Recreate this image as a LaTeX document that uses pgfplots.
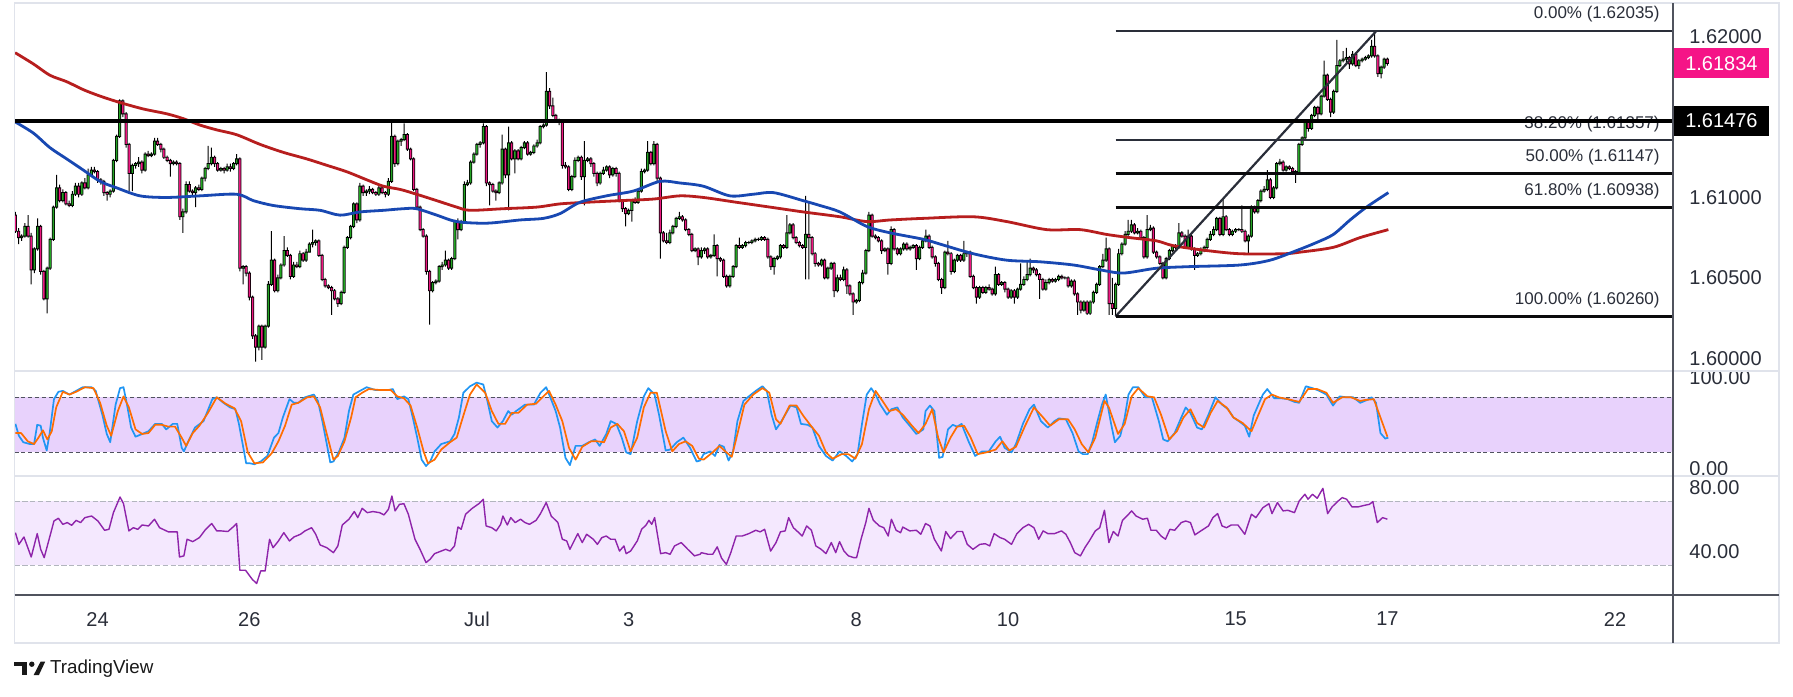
\documentclass[border=0pt]{standalone}
\usepackage{fontspec}
\setmainfont{Liberation Sans}
\usepackage{pgfplots}
\usepackage{pgfplotstable}
\pgfplotsset{compat=1.18}
\definecolor{cgreen}{RGB}{36,164,36}
\definecolor{cpink}{RGB}{236,24,128}
\definecolor{mared}{RGB}{183,30,30}
\definecolor{mablue}{RGB}{24,72,178}
\definecolor{stk}{RGB}{33,150,243}
\definecolor{std}{RGB}{255,109,0}
\definecolor{rsic}{RGB}{142,36,170}
\definecolor{stband}{RGB}{232,210,252}
\definecolor{rsiband}{RGB}{244,232,254}
\definecolor{frame}{RGB}{224,227,235}
\definecolor{axdark}{RGB}{80,83,94}
\definecolor{rsidash}{RGB}{178,181,190}
\definecolor{txt}{RGB}{42,46,57}
\definecolor{fiba}{RGB}{42,46,57}
\definecolor{fibb}{RGB}{10,10,12}
\definecolor{labpink}{RGB}{245,20,135}

\pgfplotstableread{
n o h l c
-26 1.6089 1.6091 1.6078 1.6079
-25 1.6079 1.6081 1.6071 1.6075
-24 1.6075 1.6077 1.6073 1.6076
-23 1.6076 1.6084 1.6075 1.6082
-22 1.6082 1.6089 1.6075 1.6076
-21 1.6076 1.6078 1.6046 1.6055
-20 1.6055 1.6069 1.6053 1.6068
-19 1.6068 1.6087 1.6067 1.6082
-18 1.6082 1.6083 1.6052 1.6054
-17 1.6054 1.6055 1.6036 1.6037
-16 1.6037 1.6057 1.6028 1.6056
-15 1.6056 1.6075 1.6055 1.6074
-14 1.6074 1.6095 1.6073 1.6094
-13 1.6094 1.6114 1.6093 1.6106
-12 1.6106 1.6108 1.6097 1.6098
-11 1.6098 1.6105 1.6097 1.6103
-10 1.6103 1.6104 1.6095 1.6096
-9 1.6096 1.6098 1.6094 1.6095
-8 1.6095 1.6104 1.6094 1.6102
-7 1.6102 1.6109 1.6101 1.6107
-6 1.6107 1.6109 1.6100 1.6102
-5 1.6102 1.6110 1.6101 1.6109
-4 1.6109 1.6112 1.6105 1.6106
-3 1.6106 1.6118 1.6105 1.6114
-2 1.6114 1.6119 1.6113 1.6117
-1 1.6117 1.6119 1.6115 1.6116
0 1.6116 1.6117 1.6109 1.6111
1 1.6111 1.6112 1.6108 1.6110
2 1.6110 1.6111 1.6101 1.6103
3 1.6103 1.6104 1.6098 1.6102
4 1.6102 1.6105 1.6100 1.6104
5 1.6104 1.6124 1.6103 1.6123
6 1.6123 1.6139 1.6122 1.6138
7 1.6138 1.6161 1.6137 1.6160
8 1.6160 1.6161 1.6150 1.6152
9 1.6152 1.6153 1.6131 1.6133
10 1.6133 1.6134 1.6104 1.6115
11 1.6115 1.6121 1.6104 1.6120
12 1.6120 1.6122 1.6118 1.6121
13 1.6121 1.6125 1.6119 1.6122
14 1.6122 1.6123 1.6115 1.6117
15 1.6117 1.6128 1.6116 1.6127
16 1.6127 1.6129 1.6125 1.6126
17 1.6126 1.6128 1.6125 1.6127
18 1.6127 1.6137 1.6126 1.6135
19 1.6135 1.6137 1.6132 1.6133
20 1.6133 1.6134 1.6128 1.6130
21 1.6130 1.6131 1.6124 1.6125
22 1.6125 1.6126 1.6122 1.6123
23 1.6123 1.6124 1.6113 1.6121
24 1.6121 1.6123 1.6120 1.6122
25 1.6122 1.6123 1.6120 1.6121
26 1.6121 1.6122 1.6086 1.6088
27 1.6088 1.6093 1.6078 1.6091
28 1.6091 1.6110 1.6090 1.6108
29 1.6108 1.6110 1.6103 1.6104
30 1.6104 1.6105 1.6101 1.6103
31 1.6103 1.6107 1.6094 1.6106
32 1.6106 1.6108 1.6104 1.6105
33 1.6105 1.6113 1.6104 1.6112
34 1.6112 1.6119 1.6110 1.6118
35 1.6118 1.6132 1.6117 1.6121
36 1.6121 1.6131 1.6120 1.6125
37 1.6125 1.6126 1.6119 1.6121
38 1.6121 1.6122 1.6116 1.6117
39 1.6117 1.6119 1.6116 1.6118
40 1.6118 1.6119 1.6115 1.6117
41 1.6117 1.6121 1.6116 1.6119
42 1.6119 1.6121 1.6116 1.6118
43 1.6118 1.6122 1.6117 1.6121
44 1.6121 1.6127 1.6120 1.6124
45 1.6124 1.6125 1.6054 1.6056
46 1.6056 1.6058 1.6046 1.6057
47 1.6057 1.6058 1.6051 1.6053
48 1.6053 1.6054 1.6036 1.6038
49 1.6038 1.6039 1.6012 1.6014
50 1.6014 1.6015 1.5998 1.6007
51 1.6007 1.6021 1.6005 1.6020
52 1.6020 1.6021 1.5999 1.6007
53 1.6007 1.6021 1.6006 1.6020
54 1.6020 1.6048 1.6019 1.6046
55 1.6046 1.6079 1.6045 1.6061
56 1.6061 1.6062 1.6041 1.6042
57 1.6042 1.6052 1.6041 1.6050
58 1.6050 1.6059 1.6049 1.6058
59 1.6058 1.6076 1.6057 1.6067
60 1.6067 1.6069 1.6063 1.6064
61 1.6064 1.6065 1.6049 1.6051
62 1.6051 1.6060 1.6050 1.6058
63 1.6058 1.6060 1.6056 1.6057
64 1.6057 1.6067 1.6056 1.6065
65 1.6065 1.6066 1.6060 1.6061
66 1.6061 1.6068 1.6060 1.6066
67 1.6066 1.6072 1.6066 1.6071
68 1.6071 1.6080 1.6069 1.6072
69 1.6072 1.6074 1.6070 1.6073
70 1.6073 1.6074 1.6063 1.6064
71 1.6064 1.6065 1.6048 1.6049
72 1.6049 1.6050 1.6044 1.6045
73 1.6045 1.6046 1.6043 1.6044
74 1.6044 1.6045 1.6027 1.6042
75 1.6042 1.6043 1.6036 1.6037
76 1.6037 1.6038 1.6032 1.6034
77 1.6034 1.6042 1.6033 1.6041
78 1.6041 1.6070 1.6040 1.6069
79 1.6069 1.6076 1.6068 1.6075
80 1.6075 1.6083 1.6074 1.6082
81 1.6082 1.6097 1.6081 1.6096
82 1.6096 1.6097 1.6084 1.6086
83 1.6086 1.6109 1.6085 1.6107
84 1.6107 1.6108 1.6101 1.6103
85 1.6103 1.6105 1.6101 1.6104
86 1.6104 1.6107 1.6102 1.6105
87 1.6105 1.6106 1.6102 1.6103
88 1.6103 1.6104 1.6101 1.6102
89 1.6102 1.6107 1.6101 1.6106
90 1.6106 1.6107 1.6102 1.6103
91 1.6103 1.6104 1.6100 1.6102
92 1.6102 1.6112 1.6101 1.6110
93 1.6110 1.6147 1.6109 1.6138
94 1.6138 1.6139 1.6119 1.6121
95 1.6121 1.6136 1.6120 1.6135
96 1.6135 1.6137 1.6132 1.6136
97 1.6136 1.6146 1.6135 1.6139
98 1.6139 1.6140 1.6129 1.6130
99 1.6130 1.6131 1.6123 1.6124
100 1.6124 1.6125 1.6104 1.6105
101 1.6105 1.6106 1.6093 1.6094
102 1.6094 1.6095 1.6079 1.6080
103 1.6080 1.6081 1.6075 1.6076
104 1.6076 1.6077 1.6052 1.6054
105 1.6054 1.6055 1.6021 1.6042
106 1.6042 1.6048 1.6041 1.6047
107 1.6047 1.6049 1.6046 1.6048
108 1.6048 1.6058 1.6047 1.6057
109 1.6057 1.6060 1.6055 1.6058
110 1.6058 1.6067 1.6057 1.6061
111 1.6061 1.6062 1.6055 1.6056
112 1.6056 1.6063 1.6055 1.6062
113 1.6062 1.6086 1.6061 1.6085
114 1.6085 1.6087 1.6074 1.6080
115 1.6080 1.6086 1.6079 1.6085
116 1.6085 1.6110 1.6084 1.6108
117 1.6108 1.6111 1.6107 1.6109
118 1.6109 1.6123 1.6108 1.6122
119 1.6122 1.6128 1.6121 1.6127
120 1.6127 1.6134 1.6126 1.6133
121 1.6133 1.6135 1.6131 1.6134
122 1.6134 1.6146 1.6133 1.6144
123 1.6144 1.6145 1.6107 1.6109
124 1.6109 1.6110 1.6095 1.6108
125 1.6108 1.6109 1.6103 1.6104
126 1.6104 1.6105 1.6098 1.6103
127 1.6103 1.6110 1.6102 1.6109
128 1.6109 1.6139 1.6108 1.6130
129 1.6130 1.6131 1.6112 1.6114
130 1.6114 1.6144 1.6092 1.6134
131 1.6134 1.6135 1.6123 1.6124
132 1.6124 1.6130 1.6115 1.6129
133 1.6129 1.6130 1.6123 1.6124
134 1.6124 1.6132 1.6123 1.6131
135 1.6131 1.6135 1.6130 1.6134
136 1.6134 1.6135 1.6126 1.6127
137 1.6127 1.6129 1.6126 1.6128
138 1.6128 1.6133 1.6127 1.6132
139 1.6132 1.6136 1.6131 1.6134
140 1.6134 1.6145 1.6133 1.6144
141 1.6144 1.6146 1.6143 1.6145
142 1.6145 1.6178 1.6144 1.6166
143 1.6166 1.6168 1.6155 1.6157
144 1.6157 1.6162 1.6150 1.6151
145 1.6151 1.6152 1.6147 1.6148
146 1.6148 1.6149 1.6145 1.6147
147 1.6147 1.6148 1.6118 1.6120
148 1.6120 1.6122 1.6118 1.6119
149 1.6119 1.6120 1.6104 1.6105
150 1.6105 1.6114 1.6104 1.6113
151 1.6113 1.6125 1.6112 1.6123
152 1.6123 1.6126 1.6122 1.6125
153 1.6125 1.6126 1.6111 1.6113
154 1.6113 1.6135 1.6095 1.6123
155 1.6123 1.6125 1.6122 1.6124
156 1.6124 1.6125 1.6119 1.6121
157 1.6121 1.6122 1.6113 1.6115
158 1.6115 1.6116 1.6107 1.6109
159 1.6109 1.6116 1.6108 1.6115
160 1.6115 1.6119 1.6114 1.6117
161 1.6117 1.6120 1.6116 1.6119
162 1.6119 1.6120 1.6112 1.6114
163 1.6114 1.6119 1.6113 1.6118
164 1.6118 1.6119 1.6113 1.6115
165 1.6115 1.6116 1.6097 1.6098
166 1.6098 1.6099 1.6091 1.6093
167 1.6093 1.6094 1.6082 1.6090
168 1.6090 1.6093 1.6089 1.6092
169 1.6092 1.6099 1.6085 1.6098
170 1.6098 1.6100 1.6096 1.6097
171 1.6097 1.6105 1.6096 1.6104
172 1.6104 1.6118 1.6103 1.6116
173 1.6116 1.6118 1.6115 1.6117
174 1.6117 1.6135 1.6116 1.6128
175 1.6128 1.6129 1.6120 1.6121
176 1.6121 1.6135 1.6120 1.6133
177 1.6133 1.6134 1.6110 1.6112
178 1.6112 1.6113 1.6062 1.6078
179 1.6078 1.6079 1.6072 1.6073
180 1.6073 1.6078 1.6071 1.6072
181 1.6072 1.6080 1.6071 1.6078
182 1.6078 1.6083 1.6077 1.6082
183 1.6082 1.6088 1.6081 1.6087
184 1.6087 1.6091 1.6086 1.6088
185 1.6088 1.6089 1.6085 1.6086
186 1.6086 1.6087 1.6079 1.6080
187 1.6080 1.6081 1.6076 1.6077
188 1.6077 1.6078 1.6066 1.6067
189 1.6067 1.6069 1.6066 1.6068
190 1.6068 1.6069 1.6058 1.6063
191 1.6063 1.6069 1.6062 1.6067
192 1.6067 1.6069 1.6065 1.6068
193 1.6068 1.6069 1.6062 1.6063
194 1.6063 1.6065 1.6062 1.6064
195 1.6064 1.6077 1.6063 1.6070
196 1.6070 1.6071 1.6051 1.6062
197 1.6062 1.6063 1.6060 1.6061
198 1.6061 1.6062 1.6050 1.6051
199 1.6051 1.6052 1.6044 1.6045
200 1.6045 1.6052 1.6044 1.6051
201 1.6051 1.6058 1.6050 1.6057
202 1.6057 1.6071 1.6056 1.6070
203 1.6070 1.6075 1.6068 1.6069
204 1.6069 1.6071 1.6068 1.6070
205 1.6070 1.6073 1.6069 1.6072
206 1.6072 1.6073 1.6071 1.6072
207 1.6072 1.6074 1.6071 1.6073
208 1.6073 1.6075 1.6072 1.6074
209 1.6074 1.6075 1.6073 1.6074
210 1.6074 1.6076 1.6073 1.6075
211 1.6075 1.6076 1.6073 1.6074
212 1.6074 1.6075 1.6062 1.6063
213 1.6063 1.6064 1.6055 1.6057
214 1.6057 1.6063 1.6052 1.6062
215 1.6062 1.6064 1.6061 1.6063
216 1.6063 1.6071 1.6062 1.6070
217 1.6070 1.6071 1.6068 1.6069
218 1.6069 1.6089 1.6068 1.6078
219 1.6078 1.6084 1.6077 1.6083
220 1.6083 1.6084 1.6074 1.6075
221 1.6075 1.6076 1.6071 1.6072
222 1.6072 1.6073 1.6069 1.6070
223 1.6070 1.6071 1.6068 1.6069
224 1.6069 1.6101 1.6049 1.6077
225 1.6077 1.6097 1.6049 1.6075
226 1.6075 1.6076 1.6064 1.6065
227 1.6065 1.6066 1.6057 1.6059
228 1.6059 1.6060 1.6057 1.6058
229 1.6058 1.6062 1.6057 1.6061
230 1.6061 1.6062 1.6049 1.6050
231 1.6050 1.6057 1.6049 1.6056
232 1.6056 1.6060 1.6055 1.6059
233 1.6059 1.6060 1.6038 1.6042
234 1.6042 1.6052 1.6041 1.6050
235 1.6050 1.6052 1.6048 1.6049
236 1.6049 1.6057 1.6048 1.6055
237 1.6055 1.6056 1.6040 1.6045
238 1.6045 1.6046 1.6039 1.6040
239 1.6040 1.6041 1.6027 1.6035
240 1.6035 1.6037 1.6034 1.6036
241 1.6036 1.6048 1.6035 1.6047
242 1.6047 1.6055 1.6046 1.6053
243 1.6053 1.6068 1.6052 1.6067
244 1.6067 1.6091 1.6066 1.6089
245 1.6089 1.6090 1.6075 1.6076
246 1.6076 1.6077 1.6074 1.6075
247 1.6075 1.6076 1.6072 1.6073
248 1.6073 1.6074 1.6065 1.6067
249 1.6067 1.6069 1.6066 1.6068
250 1.6068 1.6069 1.6052 1.6059
251 1.6059 1.6082 1.6058 1.6080
252 1.6080 1.6081 1.6067 1.6068
253 1.6068 1.6069 1.6064 1.6065
254 1.6065 1.6069 1.6064 1.6068
255 1.6068 1.6072 1.6067 1.6071
256 1.6071 1.6072 1.6067 1.6068
257 1.6068 1.6070 1.6067 1.6069
258 1.6069 1.6071 1.6068 1.6070
259 1.6070 1.6071 1.6055 1.6062
260 1.6062 1.6070 1.6061 1.6069
261 1.6069 1.6074 1.6068 1.6073
262 1.6073 1.6080 1.6072 1.6076
263 1.6076 1.6077 1.6068 1.6069
264 1.6069 1.6070 1.6062 1.6063
265 1.6063 1.6064 1.6057 1.6059
266 1.6059 1.6060 1.6048 1.6049
267 1.6049 1.6050 1.6040 1.6044
268 1.6044 1.6067 1.6043 1.6066
269 1.6066 1.6073 1.6064 1.6065
270 1.6065 1.6066 1.6052 1.6054
271 1.6054 1.6062 1.6053 1.6061
272 1.6061 1.6065 1.6060 1.6064
273 1.6064 1.6065 1.6060 1.6061
274 1.6061 1.6073 1.6060 1.6065
275 1.6065 1.6067 1.6063 1.6066
276 1.6066 1.6067 1.6050 1.6051
277 1.6051 1.6052 1.6043 1.6044
278 1.6044 1.6045 1.6034 1.6038
279 1.6038 1.6045 1.6037 1.6044
280 1.6044 1.6045 1.6040 1.6041
281 1.6041 1.6045 1.6040 1.6044
282 1.6044 1.6046 1.6042 1.6043
283 1.6043 1.6044 1.6039 1.6040
284 1.6040 1.6057 1.6039 1.6052
285 1.6052 1.6053 1.6045 1.6046
286 1.6046 1.6048 1.6045 1.6047
287 1.6047 1.6048 1.6041 1.6043
288 1.6043 1.6044 1.6037 1.6038
289 1.6038 1.6043 1.6037 1.6042
290 1.6042 1.6043 1.6034 1.6038
291 1.6038 1.6044 1.6037 1.6043
292 1.6043 1.6059 1.6042 1.6046
293 1.6046 1.6051 1.6045 1.6049
294 1.6049 1.6061 1.6048 1.6052
295 1.6052 1.6062 1.6051 1.6056
296 1.6056 1.6057 1.6053 1.6055
297 1.6055 1.6056 1.6051 1.6052
298 1.6052 1.6053 1.6037 1.6049
299 1.6049 1.6050 1.6042 1.6043
300 1.6043 1.6049 1.6042 1.6047
301 1.6047 1.6050 1.6046 1.6049
302 1.6049 1.6050 1.6047 1.6048
303 1.6048 1.6050 1.6047 1.6049
304 1.6049 1.6052 1.6048 1.6051
305 1.6051 1.6052 1.6049 1.6050
306 1.6050 1.6051 1.6049 1.6050
307 1.6050 1.6051 1.6044 1.6045
308 1.6045 1.6049 1.6044 1.6048
309 1.6048 1.6049 1.6039 1.6040
310 1.6040 1.6041 1.6027 1.6035
311 1.6035 1.6036 1.6028 1.6030
312 1.6030 1.6036 1.6029 1.6035
313 1.6035 1.6036 1.6027 1.6028
314 1.6028 1.6036 1.6027 1.6035
315 1.6035 1.6042 1.6034 1.6041
316 1.6041 1.6047 1.6040 1.6046
317 1.6046 1.6058 1.6045 1.6057
318 1.6057 1.6065 1.6056 1.6061
319 1.6061 1.6075 1.6060 1.6068
320 1.6068 1.6069 1.6027 1.6034
321 1.6034 1.6050 1.6027 1.6031
322 1.6031 1.6047 1.6026 1.6046
323 1.6046 1.6068 1.6045 1.6065
324 1.6065 1.6072 1.6064 1.6071
325 1.6071 1.6079 1.6070 1.6077
326 1.6077 1.6086 1.6076 1.6079
327 1.6079 1.6086 1.6078 1.6083
328 1.6083 1.6084 1.6077 1.6078
329 1.6078 1.6081 1.6077 1.6079
330 1.6079 1.6080 1.6074 1.6075
331 1.6075 1.6076 1.6062 1.6063
332 1.6063 1.6089 1.6062 1.6080
333 1.6080 1.6083 1.6079 1.6081
334 1.6081 1.6082 1.6065 1.6066
335 1.6066 1.6067 1.6062 1.6063
336 1.6063 1.6064 1.6058 1.6059
337 1.6059 1.6060 1.6049 1.6050
338 1.6050 1.6063 1.6049 1.6062
339 1.6062 1.6068 1.6061 1.6067
340 1.6067 1.6071 1.6066 1.6070
341 1.6070 1.6071 1.6068 1.6069
342 1.6069 1.6084 1.6068 1.6078
343 1.6078 1.6079 1.6075 1.6076
344 1.6076 1.6077 1.6068 1.6069
345 1.6069 1.6080 1.6068 1.6076
346 1.6076 1.6077 1.6067 1.6068
347 1.6068 1.6069 1.6055 1.6064
348 1.6064 1.6066 1.6063 1.6065
349 1.6065 1.6069 1.6064 1.6067
350 1.6067 1.6070 1.6066 1.6069
351 1.6069 1.6075 1.6068 1.6074
352 1.6074 1.6079 1.6073 1.6077
353 1.6077 1.6082 1.6076 1.6080
354 1.6080 1.6088 1.6079 1.6087
355 1.6087 1.6088 1.6076 1.6077
356 1.6077 1.6099 1.6076 1.6088
357 1.6088 1.6089 1.6079 1.6080
358 1.6080 1.6081 1.6076 1.6077
359 1.6077 1.6080 1.6076 1.6079
360 1.6079 1.6081 1.6078 1.6080
361 1.6080 1.6081 1.6079 1.6080
362 1.6080 1.6095 1.6078 1.6079
363 1.6079 1.6080 1.6072 1.6073
364 1.6073 1.6077 1.6065 1.6076
365 1.6076 1.6095 1.6075 1.6094
366 1.6094 1.6095 1.6090 1.6091
367 1.6091 1.6099 1.6090 1.6098
368 1.6098 1.6105 1.6097 1.6104
369 1.6104 1.6107 1.6103 1.6105
370 1.6105 1.6117 1.6104 1.6111
371 1.6111 1.6112 1.6099 1.6100
372 1.6100 1.6107 1.6099 1.6106
373 1.6106 1.6122 1.6105 1.6121
374 1.6121 1.6124 1.6120 1.6122
375 1.6122 1.6123 1.6116 1.6117
376 1.6117 1.6120 1.6116 1.6119
377 1.6119 1.6120 1.6117 1.6118
378 1.6118 1.6119 1.6115 1.6116
379 1.6116 1.6117 1.6109 1.6115
380 1.6115 1.6134 1.6114 1.6133
381 1.6133 1.6138 1.6132 1.6137
382 1.6137 1.6148 1.6136 1.6147
383 1.6147 1.6148 1.6141 1.6143
384 1.6143 1.6152 1.6142 1.6151
385 1.6151 1.6157 1.6150 1.6156
386 1.6156 1.6157 1.6148 1.6152
387 1.6152 1.6164 1.6151 1.6163
388 1.6163 1.6185 1.6162 1.6176
389 1.6176 1.6177 1.6160 1.6161
390 1.6161 1.6162 1.6150 1.6153
391 1.6153 1.6167 1.6152 1.6166
392 1.6166 1.6198 1.6165 1.6182
393 1.6182 1.6186 1.6181 1.6185
394 1.6185 1.6191 1.6184 1.6186
395 1.6186 1.6193 1.6183 1.6187
396 1.6187 1.6188 1.6180 1.6183
397 1.6183 1.6191 1.6182 1.6189
398 1.6189 1.6190 1.6181 1.6182
399 1.6182 1.6186 1.6180 1.6185
400 1.6185 1.6187 1.6184 1.6186
401 1.6186 1.6188 1.6185 1.6187
402 1.6187 1.6189 1.6186 1.6188
403 1.6188 1.6198 1.6187 1.6194
404 1.6194 1.62035 1.6187 1.6188
405 1.6188 1.6189 1.6175 1.6177
406 1.6177 1.6182 1.6174 1.6181
407 1.6181 1.6187 1.6180 1.6186
408 1.6186 1.6187 1.6182 1.61834
}\candles

\pgfplotstableread{
n p
-26.1 1.6190
-20.3 1.6183
-15.1 1.6176
-9.8 1.6172
-4.5 1.6167
0.8 1.6163
7.1 1.6159
14.5 1.6155
21.9 1.6152
27.1 1.6149
32.4 1.6145
37.7 1.6142
44.0 1.6139
51.4 1.6133
58.8 1.6128
66.1 1.6124
72.5 1.6120
78.8 1.6116
85.1 1.6111
90.4 1.6107
95.7 1.6105
100.9 1.6102
107.3 1.6098
113.6 1.6094
117.8 1.6092
128.3 1.6093
138.9 1.6094
146.3 1.6096
154.7 1.6097
165.2 1.6098
175.8 1.6099
184.2 1.6101
191.6 1.6100
202.1 1.6097
212.7 1.6094
223.2 1.6091
234.8 1.6088
243.3 1.6085
250.7 1.6086
261.2 1.6087
277.0 1.6088
287.6 1.6085
300.2 1.6080
310.8 1.6080
319.2 1.6077
326.6 1.6075
335.0 1.6073
340.3 1.6070
350.8 1.6067
361.4 1.6065
375.1 1.6065
380.4 1.6066
390.9 1.6069
399.3 1.6075
408.3 1.6080
}\mared

\pgfplotstableread{
n p
-26.1 1.6147
-20.3 1.6140
-15.1 1.6131
-9.8 1.6124
-4.5 1.6117
0.8 1.6110
6.0 1.6106
13.4 1.6101
21.9 1.6100
32.4 1.6101
44.0 1.6102
49.3 1.6098
55.6 1.6095
64.0 1.6093
70.4 1.6092
76.7 1.6089
83.0 1.6091
90.4 1.6092
96.7 1.6093
100.9 1.6093
107.3 1.6089
113.6 1.6085
123.1 1.6084
133.6 1.6086
141.0 1.6087
146.3 1.6090
152.6 1.6097
161.0 1.6101
169.5 1.6104
177.9 1.6110
184.2 1.6109
191.6 1.6107
200.0 1.6101
207.4 1.6102
213.8 1.6103
223.2 1.6098
228.5 1.6095
234.8 1.6091
243.3 1.6082
250.7 1.6078
261.2 1.6074
266.5 1.6071
277.0 1.6065
287.6 1.6061
298.1 1.6060
308.7 1.6058
317.1 1.6055
324.5 1.6053
335.0 1.6056
345.5 1.6057
361.4 1.6058
370.9 1.6061
379.3 1.6067
385.6 1.6072
390.9 1.6077
396.2 1.6086
401.4 1.6094
408.3 1.6103
}\mablue

\pgfplotstableread{
n v
-26.0 51
-24.9 38
-23.5 31
-21.4 29
-20.1 29
-19.1 50
-18.0 49
-17.3 36
-16.1 22
-15.2 40
-13.8 78
-12.4 86
-11.0 87
-8.9 83
-6.8 87
-4.7 91
-1.9 91
-0.6 87
1.5 61
2.9 40
4.0 31
5.7 72
7.1 90
8.2 91
9.3 72
10.6 47
12.0 37
14.1 40
16.1 43
18.2 51
20.3 51
21.7 45
23.8 51
25.2 51
26.6 25
27.3 21
28.7 32
30.8 47
33.5 54
36.3 78
37.7 80
39.8 74
41.9 69
43.6 67
44.7 51
46.1 25
47.0 8
48.2 8
49.6 7
51.6 10
53.7 16
55.8 36
57.2 41
58.6 58
60.7 78
62.1 74
63.5 74
65.6 80
68.4 83
69.7 76
71.1 54
72.5 29
73.6 9
74.6 10
76.4 21
78.1 36
79.5 65
80.9 83
83.0 87
85.1 91
87.8 88
92.0 88
93.4 89
94.8 78
96.9 81
98.3 78
99.7 58
101.1 36
102.5 12
103.9 5
105.2 10
106.6 21
108.7 29
111.5 32
112.9 40
114.3 58
115.7 85
117.8 92
119.9 96
122.0 94
123.3 76
124.7 54
126.5 47
128.2 54
129.9 65
131.0 61
132.4 65
135.2 72
138.0 72
140.1 85
141.9 91
143.2 80
144.9 65
146.3 47
148.0 14
149.4 6
151.2 27
153.3 27
155.4 31
157.4 34
158.8 27
160.9 40
162.3 54
164.1 51
165.8 36
167.2 20
168.6 18
170.7 54
172.8 81
174.2 90
176.2 83
177.6 61
179.7 22
181.1 23
183.2 31
185.3 36
187.4 25
189.5 10
190.6 11
191.7 18
193.8 21
195.3 16
196.7 28
198.1 26
199.6 11
201.0 21
202.4 54
204.3 76
206.0 81
208.2 87
210.3 92
211.7 87
213.2 61
214.6 45
216.0 52
217.5 61
219.2 71
221.1 69
222.5 51
224.6 50
226.1 47
228.2 27
230.4 16
232.5 11
234.7 21
236.8 16
238.7 10
240.4 18
241.8 51
243.3 83
244.7 90
246.1 83
247.6 72
249.7 61
251.1 67
253.0 69
254.7 58
256.9 49
259.0 40
261.2 45
261.9 65
263.3 71
264.7 65
266.2 14
267.3 15
269.0 45
270.5 50
271.9 48
273.3 51
275.5 32
277.6 16
279.8 21
281.9 21
284.1 32
285.5 37
286.9 25
289.1 20
290.5 29
292.7 51
294.8 67
296.2 72
298.4 54
300.6 47
302.7 54
304.1 57
306.3 56
308.4 41
310.3 21
311.7 18
313.2 18
314.6 31
316.3 54
317.7 72
318.9 83
320.6 51
321.8 31
323.5 38
324.9 58
326.1 83
327.5 91
329.2 91
331.4 80
333.5 80
335.7 54
337.1 34
338.5 32
340.7 41
342.8 58
344.2 69
345.7 63
347.8 47
349.3 45
351.4 61
353.6 80
355.7 72
357.6 67
359.3 58
361.4 53
362.9 49
364.3 37
365.7 60
367.2 72
368.6 83
370.0 89
372.2 79
374.3 79
376.5 78
378.6 75
380.1 74
382.2 92
384.3 90
386.5 87
388.7 83
390.8 71
392.9 81
395.1 80
397.2 80
399.4 74
401.5 77
403.0 80
404.4 74
405.8 41
407.3 35
408.3 36
}\stochk

\pgfplotstableread{
n v
-26.0 41
-24.2 41
-22.1 32
-20.1 29
-18.7 36
-17.3 44
-15.9 34
-14.5 43
-13.1 69
-11.0 86
-8.9 83
-6.8 86
-4.0 91
-1.3 90
0.8 74
2.9 49
4.3 38
6.4 65
8.2 81
9.9 69
12.0 45
14.1 40
16.1 41
18.2 50
20.3 50
22.4 48
24.5 48
26.6 36
28.0 27
30.1 41
32.2 49
34.9 63
37.7 80
40.5 73
43.3 68
45.4 54
47.5 20
49.6 8
52.3 9
55.1 19
57.2 32
59.3 49
61.4 72
63.5 74
66.3 80
68.4 81
70.4 69
72.5 40
74.6 12
76.0 16
78.1 32
80.2 58
81.6 80
83.7 85
85.8 89
89.2 88
92.7 88
94.8 81
96.9 79
99.0 71
101.1 47
103.2 20
104.5 8
106.6 12
108.7 23
111.5 31
113.6 36
115.7 60
117.8 83
119.9 94
122.6 85
124.7 65
126.8 51
128.9 51
131.0 63
133.1 63
135.9 72
138.7 73
140.7 80
142.8 87
144.9 72
147.0 54
149.1 25
151.2 12
153.3 26
156.1 32
158.1 32
160.2 31
162.3 47
164.4 51
166.5 43
168.6 21
170.7 36
172.8 69
174.9 85
176.9 85
179.7 43
181.8 21
183.9 29
186.0 32
188.1 27
190.2 13
191.7 12
194.6 20
196.7 27
198.9 20
200.6 15
202.4 40
204.6 72
207.4 83
210.3 90
212.5 85
214.6 56
216.0 51
218.9 71
221.1 71
223.2 60
225.4 50
228.2 38
230.4 20
232.5 13
235.4 18
237.5 18
239.7 13
241.8 29
244.0 67
246.1 87
248.3 76
250.4 65
252.6 67
254.7 61
257.6 49
259.7 41
261.9 51
264.0 67
265.9 36
267.6 20
269.8 36
271.9 48
274.1 49
276.2 36
278.4 18
281.2 20
284.1 23
286.2 32
288.4 22
290.5 26
293.4 49
296.2 69
299.1 58
301.3 49
304.1 56
307.0 56
309.1 45
311.3 29
313.4 20
315.6 36
318.5 76
319.9 69
322.8 40
324.9 51
327.1 81
329.2 90
332.1 81
334.2 80
336.4 61
339.0 34
341.4 43
343.5 58
345.7 67
347.8 52
350.0 47
352.1 63
354.3 76
357.1 69
359.3 58
362.2 52
365.0 43
367.2 61
369.3 78
371.5 83
373.6 80
376.5 78
380.1 75
382.9 89
385.8 89
388.7 85
390.8 74
393.7 80
396.5 80
399.4 76
400.8 77
403.7 78
405.8 58
408.0 37
}\stochd

\pgfplotstableread{
n v
-26.0 50.4
-24.9 43.1
-23.3 47.7
-21.0 35.2
-19.1 49.8
-18.0 40.0
-16.9 34.8
-15.2 47.3
-13.8 57.7
-12.4 59.4
-11.0 55.6
-9.6 56.7
-8.2 55.0
-6.8 58.1
-5.4 56.7
-4.0 59.8
-1.9 60.8
0.1 57.7
2.2 51.9
3.6 52.5
5.0 62.9
7.1 72.7
8.2 68.5
9.9 51.5
11.3 53.5
12.7 52.5
14.1 55.2
16.1 54.6
18.0 58.8
19.6 53.5
22.4 50.9
25.2 50.9
25.9 35.2
27.3 35.9
28.3 46.3
30.1 44.8
32.2 47.3
34.2 52.5
36.1 56.1
37.7 51.5
39.1 51.5
41.2 51.1
42.6 53.5
44.0 56.1
45.0 26.9
46.8 26.9
48.9 21.3
50.3 18.6
51.6 26.5
53.0 26.5
54.4 46.3
55.5 41.0
57.2 45.2
58.9 50.4
60.7 45.2
62.1 47.7
64.2 49.4
65.6 51.5
67.7 53.5
69.0 49.4
70.4 42.7
72.5 41.0
74.6 37.9
76.0 42.1
77.4 55.2
79.5 58.8
81.2 63.6
82.3 59.8
83.7 65.6
85.3 62.9
87.1 63.6
89.2 62.9
90.6 61.5
92.0 65.0
93.1 73.3
94.1 64.0
95.5 68.1
96.9 68.5
98.3 61.9
100.4 46.3
102.0 40.0
103.9 31.7
105.2 33.8
106.6 37.3
108.7 38.9
110.1 40.0
111.5 38.9
112.9 42.1
114.0 54.0
115.0 52.5
116.4 61.9
118.5 65.6
120.6 68.5
122.0 71.3
122.9 54.6
124.7 53.5
126.1 51.5
127.5 55.6
128.2 60.8
129.6 55.2
130.7 59.8
132.1 56.7
133.8 58.8
135.2 56.7
136.6 55.6
138.7 58.1
140.1 62.3
141.9 69.2
143.5 60.8
145.6 56.7
147.0 46.3
148.4 45.2
149.4 40.0
151.9 49.8
153.3 44.2
154.7 49.4
156.8 46.3
158.1 43.1
159.5 47.3
160.9 48.3
162.3 46.3
163.7 46.3
165.1 38.9
166.5 42.1
167.2 37.3
168.6 38.9
170.7 45.2
172.1 52.5
173.5 55.2
174.4 58.1
175.3 55.6
176.2 59.8
178.1 37.3
179.7 37.9
181.1 36.9
182.5 42.1
184.6 44.2
186.7 40.0
188.8 35.9
190.6 36.9
191.0 37.9
193.1 36.9
194.6 36.9
196.0 41.5
197.4 34.4
198.9 30.6
200.3 37.9
202.0 48.3
203.9 48.3
206.0 49.8
208.2 51.9
209.6 50.9
211.0 52.5
212.9 38.9
214.6 44.2
216.0 50.9
217.5 51.5
218.6 59.8
220.1 53.5
221.8 50.4
222.9 48.3
224.3 54.6
225.8 51.9
227.2 42.1
228.9 40.0
230.4 37.3
232.1 44.2
233.5 37.9
234.7 44.8
236.1 38.9
237.5 35.9
239.2 34.8
240.1 34.8
241.5 46.3
243.0 56.7
244.0 65.6
245.4 58.1
247.3 54.6
248.7 53.5
250.1 48.3
251.1 58.8
252.6 51.9
254.0 50.4
254.7 53.9
256.9 51.5
259.0 51.9
260.4 49.4
261.9 56.1
263.3 54.6
264.7 46.3
266.9 39.0
268.3 51.1
269.8 46.7
271.9 51.1
273.6 51.1
275.1 43.1
276.9 40.0
279.1 43.1
280.8 43.5
282.2 42.1
283.6 49.8
285.5 47.3
286.9 46.3
289.1 43.1
290.8 49.8
292.7 53.5
294.5 55.6
296.2 53.5
297.7 46.3
299.1 51.5
300.6 49.8
302.7 49.8
304.9 51.5
306.3 49.4
307.7 44.2
309.1 37.9
310.9 35.9
312.3 41.0
313.7 45.2
315.6 51.5
317.0 53.5
318.5 64.4
319.9 44.2
321.3 51.1
322.8 48.3
324.2 58.1
325.6 60.8
327.1 64.0
328.5 60.8
330.6 58.8
332.1 59.4
333.2 51.9
334.9 51.9
336.4 48.3
337.8 46.3
339.2 52.5
340.7 51.9
342.8 56.7
344.2 57.7
345.7 56.7
347.1 49.0
349.3 51.9
351.4 54.6
352.8 59.8
354.3 62.3
355.7 54.6
357.1 53.5
358.6 55.2
360.7 55.2
362.9 49.4
365.0 61.9
366.4 59.8
368.6 66.0
370.5 68.5
371.5 62.3
373.2 69.2
375.0 64.0
376.5 64.4
378.6 62.9
380.1 70.2
381.9 74.4
382.9 71.3
384.3 74.4
385.8 71.9
387.6 78.1
389.1 62.3
390.5 66.5
392.2 69.8
393.7 72.3
395.1 71.3
396.8 66.5
398.7 66.5
400.8 67.5
402.3 68.1
403.4 69.8
404.8 56.7
406.5 59.8
408.0 58.8
}\rsi

\pgfplotsset{
  pane/.style={
    scale only axis, width=829.25pt,
    xmin=-1.0953, xmax=20.7645,
    axis line style={draw=none},
    clip mode=individual,
    xtick=\empty,
    major tick length=0pt,
    tick style={draw=none},
    yticklabel pos=right,
    scaled y ticks=false,
    yticklabel shift=8pt,
    tick label style={font=\fontsize{10}{12}\selectfont, text=txt, inner sep=0pt},
    yticklabel style={anchor=west},
    /pgf/number format/assume math mode=true,
  },
  pricepane/.style={pane, at={(7.25pt,-1.5pt)}, anchor=north west, height=184pt,
    ymin=1.59921, ymax=1.62209, ytick=\empty},
}

\begin{document}
\begin{tikzpicture}
\useasboundingbox (0,0) rectangle (896.5pt,-348pt);
\fill[white] (0,0) rectangle (896.5pt,-348pt);

% ---------------- price pane: candles as stacked bars ----------------
% wicks: low .. high
\begin{axis}[pricepane, ybar stacked, bar width=0.5pt]
\addplot[draw=none, fill=none] table[x expr={\thisrow{n}/24}, y=l] {\candles};
\addplot[draw=none, fill=black] table[x expr={\thisrow{n}/24}, y expr={\thisrow{h}-\thisrow{l}}] {\candles};
\end{axis}
% body outline
\begin{axis}[pricepane, ybar stacked, bar width=1.5pt]
\addplot[draw=none, fill=none] table[x expr={\thisrow{n}/24}, y expr={min(\thisrow{o},\thisrow{c})-0.00003}] {\candles};
\addplot[draw=none, fill=black] table[x expr={\thisrow{n}/24}, y expr={abs(\thisrow{c}-\thisrow{o})+0.00006}] {\candles};
\end{axis}
% rising bodies
\begin{axis}[pricepane, ybar stacked, bar width=0.75pt]
\addplot[draw=none, fill=none] table[x expr={\thisrow{n}/24}, y expr={\thisrow{o}+0.00003}] {\candles};
\addplot[draw=none, fill=cgreen] table[x expr={\thisrow{n}/24}, y expr={max(\thisrow{c}-\thisrow{o}-0.00006,0)}] {\candles};
\end{axis}
% falling bodies
\begin{axis}[pricepane, ybar stacked, bar width=0.75pt]
\addplot[draw=none, fill=none] table[x expr={\thisrow{n}/24}, y expr={\thisrow{c}+0.00003}] {\candles};
\addplot[draw=none, fill=cpink] table[x expr={\thisrow{n}/24}, y expr={max(\thisrow{o}-\thisrow{c}-0.00006,0)}] {\candles};
\end{axis}

% ---------------- price pane: overlays ----------------
\begin{axis}[pricepane, ytick={1.6,1.605,1.61,1.62},
  yticklabel style={/pgf/number format/.cd, fixed, fixed zerofill, precision=5}]
\addplot[mared, line width=1.4pt, smooth, no markers] table[x expr={\thisrow{n}/24}, y=p] {\mared};
\addplot[mablue, line width=1.4pt, smooth, no markers] table[x expr={\thisrow{n}/24}, y=p] {\mablue};
\addplot[fiba, line width=1.1pt, no markers] coordinates {(13.4167,1.6026) (16.854,1.62035)};
\addplot[fiba, line width=1.45pt, no markers] coordinates {(13.4167,1.62035) (20.7645,1.62035)};
\addplot[fiba, line width=1.45pt, no markers] coordinates {(13.4167,1.61357) (20.7645,1.61357)};
\addplot[fibb, line width=1.45pt, no markers] coordinates {(13.4167,1.61147) (20.7645,1.61147)};
\addplot[fibb, line width=1.45pt, no markers] coordinates {(13.4167,1.60938) (20.7645,1.60938)};
\addplot[fibb, line width=1.45pt, no markers] coordinates {(13.4167,1.60260) (20.7645,1.60260)};
\node[anchor=base east, yshift=6pt, inner sep=0pt, text=txt, font=\fontsize{8.5}{10}\selectfont] at (axis cs:20.593,1.62035) {0.00\% (1.62035)};
\node[anchor=base east, yshift=6pt, inner sep=0pt, text=txt, font=\fontsize{8.5}{10}\selectfont] at (axis cs:20.593,1.61357) {38.20\% (1.61357)};
\node[anchor=base east, yshift=6pt, inner sep=0pt, text=txt, font=\fontsize{8.5}{10}\selectfont] at (axis cs:20.593,1.61147) {50.00\% (1.61147)};
\node[anchor=base east, yshift=6pt, inner sep=0pt, text=txt, font=\fontsize{8.5}{10}\selectfont] at (axis cs:20.593,1.60938) {61.80\% (1.60938)};
\node[anchor=base east, yshift=6pt, inner sep=0pt, text=txt, font=\fontsize{8.5}{10}\selectfont] at (axis cs:20.593,1.60260) {100.00\% (1.60260)};
\addplot[black, line width=1.65pt, no markers] coordinates {(-1.0953,1.61476) (20.7645,1.61476)};
\node[fill=labpink, text=white, anchor=west, minimum width=48pt, minimum height=15pt, inner sep=0pt, font=\fontsize{10}{12}\selectfont] at (axis cs:20.7645,1.61834) {1.61834};
\node[fill=black, text=white, anchor=west, minimum width=48pt, minimum height=15pt, inner sep=0pt, font=\fontsize{10}{12}\selectfont] at (axis cs:20.7645,1.61476) {1.61476};
\end{axis}

% ---------------- stochastic pane ----------------
\begin{axis}[pane, at={(7.25pt,-185.5pt)}, anchor=north west, height=52.5pt,
  ymin=-5.85, ymax=108.69, ytick={0,100},
  yticklabel style={yshift=0.8pt, /pgf/number format/.cd, fixed, fixed zerofill, precision=2}]
\addplot[fill=stband, draw=none] coordinates {(-1.0953,20) (20.7645,20) (20.7645,80) (-1.0953,80)} -- cycle;
\addplot[axdark, line width=0.6pt, dash pattern=on 2pt off 1.4pt, no markers] coordinates {(-1.0953,80) (20.7645,80)};
\addplot[axdark, line width=0.6pt, dash pattern=on 2pt off 1.4pt, no markers] coordinates {(-1.0953,20) (20.7645,20)};
\addplot[stk, line width=0.85pt, no markers, line join=round] table[x expr={\thisrow{n}/24}, y=v] {\stochk};
\addplot[std, line width=0.85pt, no markers, line join=round] table[x expr={\thisrow{n}/24}, y=v] {\stochd};
\end{axis}

% ---------------- RSI pane ----------------
\begin{axis}[pane, at={(7.25pt,-238pt)}, anchor=north west, height=59.5pt,
  ymin=11.44, ymax=85.81, ytick={40,80},
  yticklabel style={yshift=-1.2pt, /pgf/number format/.cd, fixed, fixed zerofill, precision=2},
  xtick={0,2,5,7,10,12,15,17,20},
  xticklabels={24,26,Jul,3,8,10,15,17,22},
  xticklabel shift=8.4pt,
  xticklabel style={anchor=north}]
\addplot[fill=rsiband, draw=none] coordinates {(-1.0953,30) (20.7645,30) (20.7645,70) (-1.0953,70)} -- cycle;
\addplot[rsidash, line width=0.6pt, dash pattern=on 2.6pt off 1.3pt, no markers] coordinates {(-1.0953,70) (20.7645,70)};
\addplot[rsidash, line width=0.6pt, dash pattern=on 2.6pt off 1.3pt, no markers] coordinates {(-1.0953,30) (20.7645,30)};
\addplot[rsic, line width=0.7pt, no markers, line join=round] table[x expr={\thisrow{n}/24}, y=v] {\rsi};
\end{axis}

% ---------------- frame ----------------
\draw[frame, line width=0.75pt] (7.25pt,-1.5pt) rectangle (889.5pt,-321.5pt);
\draw[frame, line width=0.75pt] (7.25pt,-185.5pt) -- (889.5pt,-185.5pt);
\draw[frame, line width=0.75pt] (7.25pt,-238pt) -- (889.5pt,-238pt);
\draw[axdark, line width=0.6pt] (7.25pt,-297.5pt) -- (889.5pt,-297.5pt);
\draw[axdark, line width=0.6pt] (836.5pt,-1.5pt) -- (836.5pt,-321.5pt);

% ---------------- logo ----------------
\fill[black!90] (7pt,-330.8pt) rectangle (13.6pt,-333.2pt);
\fill[black!90] (10.9pt,-330.8pt) rectangle (13.6pt,-337.6pt);
\fill[black!90] (15.9pt,-332.1pt) circle (1.35pt);
\fill[black!90] (16.8pt,-337.6pt) -- (20.3pt,-330.8pt) -- (22.6pt,-330.8pt) -- (19.4pt,-337.6pt) -- cycle;
\node[anchor=west, inner sep=0pt, text=black!90, font=\fontsize{9.4}{11}\selectfont] at (24.8pt,-334.3pt) {TradingView};
\end{tikzpicture}
\end{document}
